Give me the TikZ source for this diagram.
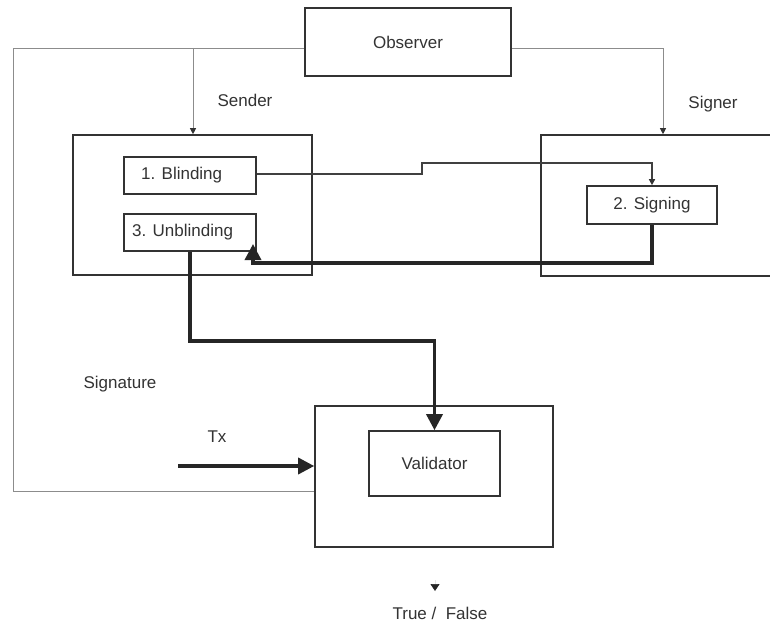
\documentclass[tikz,border=0pt]{standalone}
\usepackage{fontspec}
\setmainfont{Liberation Sans}
\usetikzlibrary{arrows.meta}
\begin{document}
\begin{tikzpicture}[x=1pt,y=-1pt,
  every node/.style={font=\fontsize{17}{19}\selectfont, text=black!80},
  box/.style={draw=black!80, line width=1.6pt, rectangle, inner sep=0pt},
  thinlink/.style={draw=black!45, line width=0.9pt},
  midlink/.style={draw=black!75, line width=1.3pt},
  thicklink/.style={draw=black!85, line width=3.4pt},
  smalltip/.style={-{Triangle[width=6pt,length=6pt,color=black!80]}},
  bigtip/.style={-{Triangle[width=16pt,length=16pt]}},
  lbl/.style={inner sep=0pt}
]
\useasboundingbox (0,0) rectangle (770,623);
\clip (0,0) rectangle (770,623);
\fill[white] (0,0) rectangle (770,623);

% boxes
\node[box, minimum width=206pt, minimum height=68pt] (obs) at (408,42) {Observer};
\node[box, minimum width=239pt, minimum height=140pt] (sender) at (192.5,205) {};
\node[box, minimum width=132pt, minimum height=37pt] (blind) at (190,175.5) {};
\node[lbl, anchor=west] (blindtxt) at (141,175.5) {1. Blinding};
\node[box, minimum width=132pt, minimum height=37pt] (unblind) at (190,232.5) {};
\node[lbl, anchor=west] (unblindtxt) at (132,232.5) {3. Unblinding};
\node[box, minimum width=240pt, minimum height=141pt] (signer) at (661,205.5) {};
\node[box, minimum width=130pt, minimum height=38pt] (signing) at (652,205) {2. Signing};
\node[box, minimum width=238pt, minimum height=141pt] (valouter) at (434,476.5) {};
\node[box, minimum width=131pt, minimum height=65pt] (valinner) at (434.5,463.5) {Validator};

% labels
\node[lbl] (lsender) at (245,100) {Sender};
\node[lbl] (lsigner) at (713,104) {Signer};
\node[lbl] (lsig) at (120,384) {Signature};
\node[lbl] (ltx) at (217,437) {Tx};
\node[lbl] (ltf) at (440,613) {True /\ \ False};

% helper coordinates
\coordinate (obsL) at (obs.west |- 0,48);
\coordinate (obsR) at (obs.east |- 0,48);
\coordinate (cornerTL) at (13,48);
\coordinate (cornerBL) at (13,491);
\coordinate (sendTap) at (193,48);
\coordinate (signTap) at (663,48);
\coordinate (txStart) at (178,466);
\coordinate (tfA) at (435,580);
\coordinate (tfB) at (435,591);

% observer links
\draw[thinlink] (obsL) -- (cornerTL) -- (cornerBL) -- (valouter.west |- cornerBL);
\draw[thinlink, smalltip] (sendTap) -- (sendTap |- sender.north);
\draw[thinlink, smalltip] (obsR) -- (signTap) -- (signTap |- signer.north);

% blinding -> signing
\draw[midlink, smalltip] (blind.east |- 0,174) -- (422,174) -- (422,163) -- (signing.north |- 0,163) -- (signing.north);

% signing -> unblinding
\draw[thicklink, bigtip] (signing.south) -- (652,263) -- (253,263) -- (253,244);

% unblinding -> validator
\draw[thicklink, bigtip] (unblind.south) -- (190,341) -- (valinner.north |- 0,341) -- (valinner.north);

% transaction input
\draw[thicklink, bigtip] (txStart) -- (valouter.west |- txStart);

% result
\draw[draw=black!10, line width=0.6pt, -{Triangle[width=9pt,length=7pt,color=black!85]}] (tfA) -- (tfB);
\end{tikzpicture}
\end{document}
